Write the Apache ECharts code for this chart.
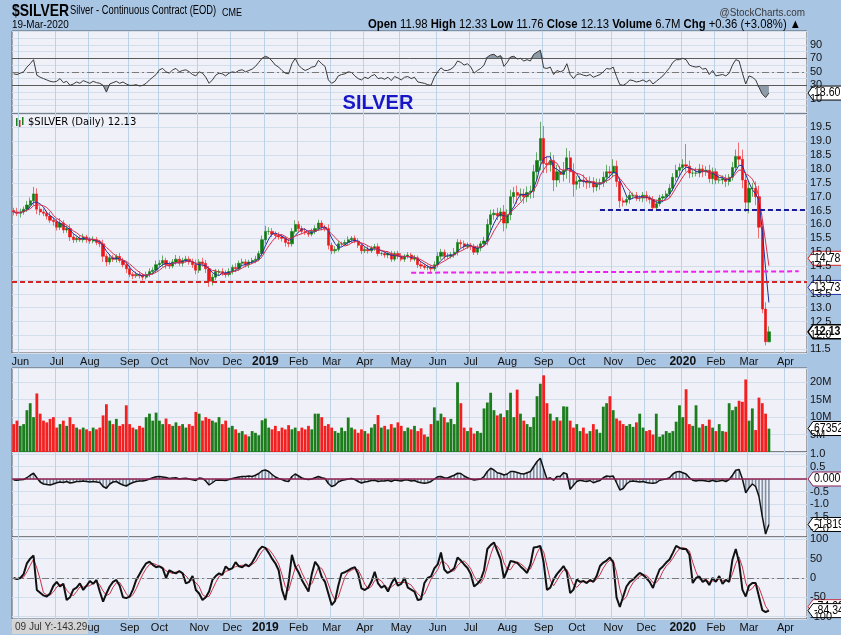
<!DOCTYPE html>
<html><head><meta charset="utf-8">
<script src="https://cdn.jsdelivr.net/npm/echarts@6/dist/echarts.min.js"></script>
<style>html,body{margin:0;padding:0;background:#a9c5e4;overflow:hidden}#c{width:841px;height:635px}</style>
</head><body><div id="c"></div>
<script>
// ---------- DATA (2-trading-day buckets, 25-May-2018 .. 19-Mar-2020) ----------
const monthTicks = [['Jun',4],['Jul',25],['Aug',46],['Sep',69],['Oct',88],['Nov',111],['Dec',132],['2019',151],['Feb',172],['Mar',191],['Apr',212],['May',233],['Jun',255],['Jul',275],['Aug',297],['Sep',319],['Oct',339],['Nov',362],['Dec',382],['2020',403],['Feb',424],['Mar',443],['Apr',465]];
const totalDays = 480;
const firstOpen = 16.5;
const closes = [
16.45,16.40,16.45,16.55,16.70,16.85,17.10,16.55,16.45,16.40,
16.30,16.15,16.10,15.90,16.05,15.80,15.85,15.55,15.45,15.50,
15.45,15.55,15.45,15.40,15.45,15.35,15.30,14.85,14.65,14.80,
14.75,14.85,14.70,14.55,14.40,14.20,14.15,14.20,14.15,14.10,
14.20,14.30,14.35,14.55,14.60,14.70,14.55,14.50,14.65,14.75,
14.60,14.70,14.75,14.65,14.55,14.35,14.65,14.60,14.40,13.95,
14.10,14.30,14.30,14.25,14.20,14.30,14.45,14.40,14.60,14.65,
14.55,14.65,14.70,14.75,14.95,15.45,15.75,15.75,15.65,15.60,
15.55,15.50,15.35,15.30,15.75,16.00,15.85,15.75,15.70,15.65,
15.75,15.85,16.05,15.90,15.85,15.25,15.05,15.10,15.30,15.30,
15.35,15.45,15.50,15.40,15.25,15.05,15.10,15.05,15.15,15.20,
14.95,14.95,14.90,14.95,14.75,14.95,14.85,14.75,14.85,14.90,
14.75,14.80,14.55,14.50,14.45,14.45,14.40,14.55,14.85,15.00,
14.85,14.85,14.90,15.00,15.35,15.30,15.20,15.25,15.20,15.00,
15.15,15.30,15.40,16.00,16.35,16.40,16.30,16.45,16.05,16.35,
17.00,17.15,17.05,17.10,17.00,17.15,17.20,17.90,18.30,19.10,
18.20,18.15,18.30,17.60,17.90,17.80,17.95,18.40,17.90,17.45,
17.55,17.60,17.55,17.50,17.55,17.35,17.45,17.50,17.70,17.90,
17.85,18.10,17.55,16.85,16.80,16.90,17.05,17.05,16.95,16.95,
17.05,16.95,16.90,16.60,16.75,16.95,17.00,17.10,17.30,17.70,
17.95,18.05,18.15,18.10,17.85,17.85,17.85,18.00,17.90,17.95,
17.65,17.90,17.60,17.60,17.65,17.55,17.70,18.05,18.45,18.35,
17.60,16.80,17.30,17.30,17.00,15.90,12.95,11.77,12.13];
// estimated wick extents above / below each candle body
const wickUp = [
.10,.15,.12,.10,.15,.12,.25,.20,.10,.12, .10,.15,.12,.10,.18,.10,.12,.15,.10,.08,
.10,.12,.08,.10,.12,.10,.08,.15,.10,.12, .10,.08,.12,.10,.10,.12,.08,.10,.12,.08,
.10,.12,.10,.15,.12,.18,.10,.12,.10,.15, .12,.10,.12,.10,.12,.18,.10,.15,.12,.10,
.12,.10,.08,.12,.10,.12,.10,.15,.10,.12, .10,.08,.10,.12,.10,.15,.20,.15,.12,.10,
.12,.10,.08,.15,.12,.15,.12,.10,.12,.08, .10,.12,.12,.10,.08,.15,.10,.12,.10,.08,
.10,.12,.08,.10,.10,.08,.10,.12,.08,.10, .12,.08,.10,.08,.10,.08,.10,.12,.08,.10,
.08,.10,.08,.10,.08,.10,.08,.12,.15,.12, .10,.12,.10,.15,.12,.10,.12,.10,.08,.10,
.12,.10,.15,.20,.18,.15,.20,.15,.25,.20, .25,.20,.25,.20,.18,.22,.20,.25,.30,.60,
.45,.25,.30,.20,.25,.20,.30,.35,.25,.30, .20,.15,.20,.15,.18,.15,.20,.15,.20,.25,
.20,.25,.20,.15,.12,.15,.12,.10,.12,.10, .12,.15,.10,.12,.15,.12,.10,.12,.15,.15,
.20,.15,.20,.75,.20,.15,.20,.18,.15,.15, .20,.15,.12,.15,.12,.15,.12,.20,.25,.50,
.35,.30,.25,.20,.25,.40,.30,.25,.20];
const wickDn = [
.12,.10,.15,.10,.10,.12,.15,.18,.12,.10, .12,.10,.15,.12,.10,.12,.10,.15,.12,.10,
.08,.10,.12,.10,.08,.10,.12,.20,.15,.10, .10,.12,.08,.10,.15,.10,.12,.08,.10,.12,
.08,.10,.12,.10,.08,.12,.15,.10,.08,.10, .10,.12,.08,.10,.12,.15,.10,.12,.15,.20,
.15,.10,.12,.10,.12,.08,.10,.12,.08,.10, .10,.12,.08,.10,.08,.10,.15,.12,.10,.12,
.10,.12,.15,.12,.10,.08,.12,.10,.08,.10, .08,.10,.08,.12,.10,.15,.12,.10,.08,.10,
.08,.10,.12,.08,.10,.12,.08,.10,.08,.10, .10,.08,.10,.12,.10,.08,.10,.08,.10,.08,
.10,.08,.12,.10,.08,.10,.12,.08,.10,.12, .12,.10,.08,.10,.12,.15,.10,.08,.12,.10,
.10,.12,.10,.15,.20,.18,.15,.20,.30,.20, .20,.25,.30,.20,.25,.20,.22,.25,.30,.35,
.35,.30,.25,.40,.25,.30,.25,.30,.40,.45, .20,.25,.20,.22,.18,.20,.15,.20,.15,.20,
.20,.15,.20,.25,.15,.12,.15,.12,.10,.12, .15,.12,.15,.10,.12,.10,.12,.10,.12,.10,
.15,.20,.15,.20,.18,.15,.12,.15,.20,.15, .15,.20,.15,.12,.15,.20,.15,.12,.15,.20,
.30,.35,.40,.30,.30,.40,.15,.13,.01];
const volumeM = [
8,9,7.5,8,12,14,10,16.8,11,9, 8.5,9.5,10,7,8,9,7.5,10,8,7,
6.5,7,6.5,6,7,6.5,7,10.5,13.7,9, 8,9.5,7.5,8,13.4,8,7,6.5,7.5,7,
10,11,9,11.3,9,8,9.6,8,7.5,8.5, 7.5,8,7,8,7.5,11.5,11,9,10,9.5,
9,8.5,10,8,9,7,7.5,6.5,5.5,6, 5,4.5,6,5.5,4.8,9.1,9.6,7,6.5,7.5,
6,7,6.5,7.7,6.5,7,6,7,6.5,7.5, 6.5,11,11,10,7.5,8,7,6,5.5,7,
6,9.9,7,6.5,5.5,6.5,6,5.3,7,8, 10.6,7,7.5,6.5,8,7,8.5,7.5,6,7,
6.5,7.5,6,6.8,5,4.4,8,12.8,9,11, 10,8.5,9.5,8,20,14,7,6,7,5.3,
6,5.5,12.5,14.2,17,12,10.5,11,10,12, 17,10,17.9,11,9,8,7.2,10,16,19.6,
22,14,11,9,10,9,13.1,13,9,7, 8,6,7,5.3,6,8,6.5,5.5,13,14,
16,12,9.6,9,8,7.5,8,7.2,8.5,11, 7,6,6.3,5,11,4.4,5,6,5.5,6,
8.7,13.4,10,18,8,7.5,13.4,7,8,7.5, 9.3,7,6,8,6,5.8,14,12,13,14.7,
14.4,20.8,9,12.5,6.3,15.6,14,11,6.7];
const rsi = [
47,46,48,50,57,62,68,45,42,40, 38,36,35,36,40,34,36,30,32,35,
33,37,35,33,36,34,33,30,20,32, 34,36,33,35,32,30,30,31,29,30,
33,38,42,46,53,55,50,48,53,55, 50,52,53,50,46,44,50,48,42,33,
38,45,48,47,44,48,50,49,52,53, 50,52,54,58,64,70,73,71,66,60,
57,52,48,47,62,70,60,55,52,54, 57,58,67,62,58,38,33,36,44,46,
47,50,49,44,40,38,42,40,44,46, 40,41,39,42,37,43,41,38,42,43,
40,42,35,34,33,31,30,42,50,56, 52,52,54,58,66,64,60,62,57,48,
52,55,60,72,75,76,72,74,58,64, 72,73,69,70,66,68,66,76,79,82,
56,55,57,46,52,50,52,62,46,40, 46,47,45,44,46,42,44,46,50,55,
54,57,43,31,30,33,38,37,35,36, 38,35,38,32,36,40,44,50,56,64,
68,68,70,68,60,58,57,58,54,55, 46,52,44,45,46,44,48,60,68,66,
48,32,44,42,38,27,17,12,18.6];
const macdHist = [
-0.04,-0.05,-0.03,-0.02,0.05,0.15,0.23,0.05,-0.12,-0.2, -0.22,-0.24,-0.2,-0.15,-0.12,-0.14,-0.1,-0.16,-0.14,-0.1,
-0.1,-0.08,-0.1,-0.12,-0.1,-0.12,-0.14,-0.3,-0.37,-0.2, -0.12,-0.1,-0.18,-0.24,-0.28,-0.2,-0.14,-0.1,-0.08,-0.08,
-0.05,0,0.05,0.09,0.1,0.08,0.06,0.02,0.04,0.05, 0,0.02,0.03,0,-0.03,-0.06,0.04,0.02,-0.08,-0.24,
-0.15,-0.05,-0.04,-0.05,-0.06,-0.02,0.02,0.05,0.08,0.1, 0.1,0.12,0.1,0.15,0.22,0.33,0.36,0.3,0.18,0.08,
0.02,-0.02,-0.08,-0.1,0.1,0.2,0.12,0.04,0,-0.02, 0,0.05,0.1,0.05,0.02,-0.18,-0.3,-0.25,-0.12,-0.06,
-0.03,0,0.02,-0.02,-0.1,-0.16,-0.12,-0.1,-0.06,-0.05, -0.1,-0.08,-0.08,-0.05,-0.1,-0.04,-0.06,-0.08,-0.04,-0.04,
-0.08,-0.06,-0.12,-0.15,-0.17,-0.15,-0.1,0,0.09,0.1, 0.05,0.04,0.1,0.15,0.23,0.22,0.12,0.05,0,-0.04,
-0.02,0,0.1,0.3,0.43,0.36,0.25,0.22,0.16,0.2, 0.3,0.3,0.26,0.22,0.2,0.25,0.3,0.5,0.7,0.83,
0.4,0,0.05,-0.05,0.1,0.1,0.25,0.2,-0.41,-0.25, -0.1,-0.05,-0.08,-0.1,-0.06,-0.15,-0.1,-0.06,0.05,0.12,
0.1,0.12,-0.15,-0.44,-0.38,-0.2,-0.1,-0.08,-0.1,-0.12, -0.1,-0.14,-0.16,-0.17,-0.15,-0.05,-0.02,0,0.05,0.2,
0.28,0.3,0.25,0.2,0.05,-0.05,-0.08,-0.05,-0.06,-0.08, -0.1,-0.05,-0.1,-0.08,-0.05,-0.1,-0.02,0.15,0.35,0.38,
0,-0.55,-0.35,-0.2,-0.3,-0.7,-1.5,-2.2,-1.819];
const osc = [
0,-3,0,10,38,50,58,-31,-38,-45, -48,-40,-20,-10,-22,-15,-57,-50,-30,-25,
-14,-31,-20,-8,-15,-5,-35,-61,-40,-22, -10,-5,-20,-50,-52,-48,-30,-5,10,25,
38,42,34,28,30,25,0,20,15,12, 18,12,-14,-10,5,-31,-40,-57,-50,-35,
-5,5,12,8,30,22,25,41,30,28, 35,30,40,55,72,81,78,65,50,38,
20,-30,-57,-10,60,30,15,-5,-20,-35, 10,42,30,3,-10,-40,-70,-60,-20,12,
15,20,25,28,10,-27,-31,-25,-10,16, -14,-25,-20,-35,-15,0,-20,-15,0,-25,
-30,-35,-57,-55,-13,0,4,25,35,66, 22,13,18,25,53,45,35,26,10,-22,
-15,-4,20,75,85,92,70,48,0,20, 44,42,39,30,22,13,35,79,80,83,
40,-31,-25,-4,10,20,31,15,-39,-30, -4,-10,-8,-13,-5,-10,5,31,40,45,
53,40,-50,-75,-48,-22,-10,-4,5,13, 8,0,-10,-26,0,22,30,40,48,65,
83,78,75,75,60,-13,0,4,-10,-5, -18,0,-10,5,-15,-5,-10,48,75,40,
-30,-48,-20,-13,-13,-48,-83,-88,-84.34];
const supportLevel = 13.93;
const magentaLine = [[239,14.26],[473,14.31]];   // [trading day, price]
const navyLine = [[354,16.52],[478,16.52]];
const lastVals = {rsi:18.60, maRed:14.78, maBlue:13.73, close:12.13, vol:6735200, macdZero:0, macd:-1.819, oscSig:-74.09, osc:-84.34};

// ---------- BUILD ----------
const chart = echarts.init(document.getElementById('c'), null, {width:841, height:635});
const NCAT = totalDays/2;
const cats = Array.from({length:NCAT}, (_, i) => String(i));
const labelAt = {};
monthTicks.forEach(([l, d]) => { labelAt[Math.round(d/2)] = l; });
const isTick = i => labelAt[i] !== undefined;

function sma(a, n){ return a.map((v,i)=>{const s=Math.max(0,i-n+1);let t=0;for(let j=s;j<=i;j++)t+=a[j];return +(t/(i-s+1)).toFixed(3);}); }
const opens = closes.map((c,i)=> i===0 ? firstOpen : closes[i-1]);
const candles = closes.map((c,i)=>[opens[i], c, +(Math.min(opens[i],c)-wickDn[i]).toFixed(2), +(Math.max(opens[i],c)+wickUp[i]).toFixed(2)]);
const maBlue = sma(closes, 4), maRed = sma(closes, 6), oscSig = sma(osc, 3);
const UP='#0f7a0f', DN='#ee1515';

const FONT = '"Liberation Sans", Arial, sans-serif';
const L = 12, R = 34;
const grids = [
  {top:31, height:83}, {top:114, height:239}, {top:368, height:84}, {top:452, height:85}, {top:537, height:82}
].map(g => Object.assign({left:L, right:R, show:true, backgroundColor:'#eff0f8', borderColor:'#5a5a5a', borderWidth:1}, g));

function xAxisFor(gi, showLabels, margin){
  return {type:'category', gridIndex:gi, data:cats, boundaryGap:true,
    axisLine:{show:false}, axisTick:{show:false},
    axisLabel:{show:showLabels, interval:(i)=>isTick(i), margin:margin||3, color:'#111', fontSize:11, fontFamily:FONT,
      formatter:(v,i)=>{const l=labelAt[i]; return /^\d{4}$/.test(l) ? '{b|'+l+'}' : l;},
      rich:{b:{fontWeight:'bold', fontSize:12, color:'#111', fontFamily:FONT}}},
    splitLine:{show:true, interval:(i)=>isTick(i), lineStyle:{color:'#bcd2e7', width:1}}};
}
function yAxisFor(gi, min, max, step, fmt){
  return {type:'value', gridIndex:gi, position:'right', min, max, minInterval:step, maxInterval:step,
    splitNumber:Math.round((max-min)/step), axisLine:{show:false}, axisTick:{show:false},
    axisLabel:{showMinLabel:false, showMaxLabel:false, margin:3, color:'#111', fontSize:11, fontFamily:FONT, formatter:fmt},
    splitLine:{lineStyle:{color:'#d2deec', width:1}}};
}

const option = {
  animation:false, backgroundColor:'#a9c5e4',
  grid: grids,
  xAxis: [xAxisFor(0,false), xAxisFor(1,true,3), xAxisFor(2,false), xAxisFor(3,false), xAxisFor(4,true,3)],
  yAxis: [
    yAxisFor(0, -12.4, 110.4, 10, v => (Math.round(v)%20===10 && v>0 && v<100) ? String(Math.round(v)) : ''),
    yAxisFor(1, 11.367, 19.98, 0.5, v => v.toFixed(1)),
    yAxisFor(2, 0, 24.1, 5, v => v===0 ? '' : v+'M'),
    yAxisFor(3, -2.32, 1.08, 0.5, v => Math.abs(v)<1e-9 ? '' : v.toFixed(1)),
    yAxisFor(4, -106, 106, 50, v => String(v))
  ],
  series: [
    // RSI panel
    {type:'line', xAxisIndex:0, yAxisIndex:0, data:rsi.map(()=>70), stack:'ob', symbol:'none', lineStyle:{opacity:0}, silent:true},
    {type:'line', xAxisIndex:0, yAxisIndex:0, data:rsi.map(v=>Math.max(v-70,0)), stack:'ob', symbol:'none', lineStyle:{opacity:0}, areaStyle:{color:'#8e9ba8', opacity:1}, silent:true},
    {type:'line', xAxisIndex:0, yAxisIndex:0, data:rsi.map(v=>Math.min(v,30)), stack:'os', symbol:'none', lineStyle:{opacity:0}, silent:true},
    {type:'line', xAxisIndex:0, yAxisIndex:0, data:rsi.map(v=>30-Math.min(v,30)), stack:'os', symbol:'none', lineStyle:{opacity:0}, areaStyle:{color:'#8e9ba8', opacity:1}, silent:true},
    {type:'line', xAxisIndex:0, yAxisIndex:0, data:rsi, symbol:'none', lineStyle:{color:'#3a3a3a', width:1}, z:5,
      markLine:{silent:true, symbol:['none','none'], label:{show:false}, data:[
        {yAxis:70, lineStyle:{color:'#5a5a5a', width:1, type:'solid'}},
        {yAxis:30, lineStyle:{color:'#5a5a5a', width:1, type:'solid'}},
        {yAxis:50, lineStyle:{color:'#7a7a7a', width:1, type:[7,3,2,3]}}]}},
    // price panel
    {type:'candlestick', xAxisIndex:1, yAxisIndex:1, data:candles, barWidth:2.8,
      itemStyle:{color:UP, color0:DN, borderColor:UP, borderColor0:DN, borderWidth:0.6},
      markLine:{silent:true, symbol:['none','none'], label:{show:false}, data:[
        {yAxis:supportLevel, lineStyle:{color:'#d42424', width:2, type:[5,3]}},
        [{coord:[Math.round(magentaLine[0][0]/2), magentaLine[0][1]], lineStyle:{color:'#ee22ee', width:2, type:[5,3]}}, {coord:[Math.round(magentaLine[1][0]/2), magentaLine[1][1]]}],
        [{coord:[Math.round(navyLine[0][0]/2), navyLine[0][1]], lineStyle:{color:'#1a1a9a', width:2, type:[5,3]}}, {coord:[Math.round(navyLine[1][0]/2), navyLine[1][1]]}]
      ]}},
    {type:'line', xAxisIndex:1, yAxisIndex:1, data:maBlue, symbol:'none', lineStyle:{color:'#2030a0', width:1}, z:3},
    {type:'line', xAxisIndex:1, yAxisIndex:1, data:maRed, symbol:'none', lineStyle:{color:'#d83050', width:1}, z:3},
    // volume
    {type:'bar', xAxisIndex:2, yAxisIndex:2, barWidth:2.8,
      data:volumeM.map((v,i)=>({value:v, itemStyle:{color: closes[i]>=opens[i] ? '#1c7d1c' : '#f42020'}}))},
    // MACD histogram
    {type:'bar', xAxisIndex:3, yAxisIndex:3, barWidth:1.6, data:macdHist, itemStyle:{color:'#7f8fa0'},
      markLine:{silent:true, symbol:['none','none'], label:{show:false}, data:[{yAxis:0, lineStyle:{color:'#8c2050', width:1.5, type:'solid'}}]}},
    {type:'line', xAxisIndex:3, yAxisIndex:3, data:macdHist, symbol:'none', lineStyle:{color:'#111', width:1.5}, z:4},
    // oscillator
    {type:'line', xAxisIndex:4, yAxisIndex:4, data:oscSig, symbol:'none', lineStyle:{color:'#c8324a', width:1}, z:3,
      markLine:{silent:true, symbol:['none','none'], label:{show:false}, data:[{yAxis:0, lineStyle:{color:'#7a7a7a', width:1, type:[7,3,2,3]}}]}},
    {type:'line', xAxisIndex:4, yAxisIndex:4, data:osc, symbol:'none', lineStyle:{color:'#111', width:2}, z:4}
  ]
};
chart.setOption(option);

// ---------- annotations ----------
function tag(axis, value, text, stroke, o){
  o = o || {};
  const y = chart.convertToPixel({yAxisIndex:axis}, value);
  const x0 = 808, h = 14;
  return {type:'group', z:100, children:[
    {type:'polygon', shape:{points:[[x0,y],[x0+5,y-h/2],[843,y-h/2],[843,y+h/2],[x0+5,y+h/2]]}, style:{fill:'#fff', stroke:stroke, lineWidth:o.lw||1}},
    {type:'text', x:x0+6, y:y, scaleX:0.88, style:{text:text, fill:'#000', font:(o.bold?'bold ':'')+'12px '+FONT, verticalAlign:'middle', align:'left'}}
  ]};
}
const graphics = [
  {type:'text', x:12, y:3, scaleX:0.82, style:{text:'$SILVER', font:'bold 17px '+FONT, fill:'#000'}},
  {type:'text', x:70, y:5, scaleX:0.78, style:{text:'Silver - Continuous Contract (EOD)', font:'12px '+FONT, fill:'#000'}},
  {type:'text', x:222, y:8, scaleX:0.9, style:{text:'CME', font:'10px '+FONT, fill:'#000'}},
  {type:'text', x:12, y:19, scaleX:0.9, style:{text:'19-Mar-2020', font:'11px '+FONT, fill:'#000'}},
  {type:'text', x:805, y:7, scaleX:0.9, style:{text:'@StockCharts.com', font:'11px '+FONT, fill:'#3a3a3a', align:'right'}},
  {type:'text', x:801, y:18, scaleX:0.87, style:{align:'right', font:'13px '+FONT, fill:'#000',
    text:'{b|Open} 11.98 {b|High} 12.33 {b|Low} 11.76 {b|Close} 12.13 {b|Volume} 6.7M {b|Chg} +0.36 (+3.08%) ▲',
    rich:{b:{font:'bold 13px '+FONT, fill:'#000'}}}},
  {type:'text', x:378, y:103, style:{text:'SILVER', font:'bold 20px '+FONT, fill:'#1717c8', align:'center', verticalAlign:'middle'}},
  {type:'text', x:28, y:117, style:{text:'$SILVER (Daily) 12.13', font:'10px "DejaVu Sans", sans-serif', fill:'#000'}},
  {type:'rect', shape:{x:16, y:118, width:1.5, height:8}, style:{fill:'#1c7d1c'}},
  {type:'rect', shape:{x:19, y:120, width:1.5, height:7}, style:{fill:'#e02020'}},
  {type:'rect', shape:{x:22, y:117, width:1.5, height:8}, style:{fill:'#1c7d1c'}},
  tag(0, lastVals.rsi, '18.60', '#000'),
  tag(1, lastVals.maRed, '14.78', '#d42020'),
  tag(1, lastVals.maBlue, '13.73', '#2030a0'),
  tag(1, lastVals.close, '12.13', '#000', {bold:true, lw:1.5}),
  tag(2, lastVals.vol/1e6, '6735200', '#000'),
  tag(3, lastVals.macdZero, '0.000', '#8c2050'),
  tag(3, lastVals.macd, '-1.819', '#000'),
  tag(4, lastVals.oscSig, '-74.09', '#c8324a'),
  tag(4, lastVals.osc, '-84.34', '#000'),
  {type:'rect', shape:{x:12, y:620, width:76, height:14}, style:{fill:'#d4d4d4'}, z:100},
  {type:'text', x:15, y:627, style:{text:'09 Jul Y:-143.29', font:'10px '+FONT, fill:'#333', verticalAlign:'middle'}, z:101}
];
chart.setOption({graphic: graphics});
</script></body></html>
